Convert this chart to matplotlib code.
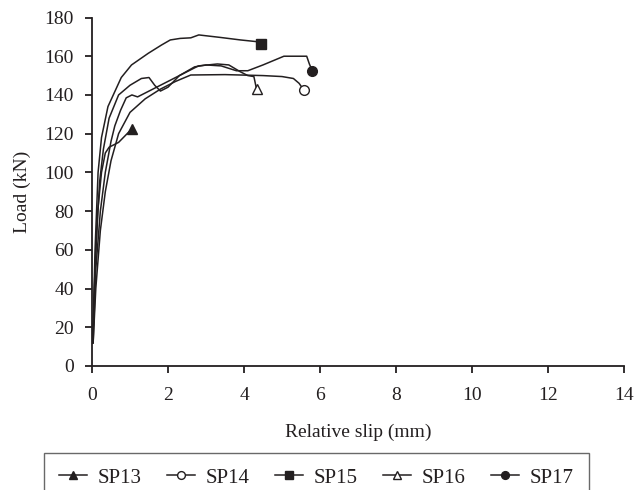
import matplotlib
matplotlib.use("Agg")
from matplotlib import pyplot as plt

plt.rcParams['font.family'] = ['Liberation Serif', 'DejaVu Serif']

ink = '#231f20'

### Read-off data (relative slip in mm, load in kN)
sp13_x = [0.02, 0.07, 0.15, 0.25, 0.35, 0.45, 0.55, 0.7, 0.85, 1.05]
sp13_y = [12, 45, 80, 100, 110, 113, 114, 115.5, 118.5, 122.5]

sp14_x = [0.03, 0.1, 0.22, 0.35, 0.5, 0.7, 1.0, 1.4, 1.8, 2.2, 2.6, 3.5,
          4.5, 5.0, 5.3, 5.45, 5.57]
sp14_y = [12, 40, 70, 90, 106, 120, 131, 138, 143, 147, 150.3, 150.5,
          150, 149.5, 148.5, 146, 142.6]

sp15_x = [0.02, 0.08, 0.16, 0.25, 0.42, 0.77, 1.04, 1.48, 1.83, 2.06, 2.32,
          2.6, 2.81, 3.38, 3.91, 4.35, 4.45]
sp15_y = [12, 60, 100, 118, 134, 149, 155.5, 161.5, 165.8, 168.4, 169.2,
          169.5, 171, 169.7, 168.4, 167.5, 166.5]

sp16_x = [0.03, 0.1, 0.22, 0.35, 0.5, 0.6, 0.75, 0.9, 1.05, 1.2, 1.5, 2.0,
          2.5, 2.8, 3.3, 3.6, 3.9, 4.1, 4.26, 4.33]
sp16_y = [12, 50, 80, 100, 116, 124, 132, 138.5, 140, 139, 142, 147,
          152, 155, 156, 155.5, 152, 150, 149.5, 143]

sp17_x = [0.02, 0.1, 0.2, 0.3, 0.45, 0.7, 1.0, 1.3, 1.5, 1.65, 1.8, 2.0,
          2.3, 2.7, 3.0, 3.4, 3.8, 4.1, 4.5, 5.05, 5.65, 5.72, 5.8]
sp17_y = [12, 60, 95, 112, 128, 140, 145, 148.5, 149, 145, 142, 144,
          150, 154.5, 155.5, 155, 152.5, 152.5, 155.5, 160, 160, 156, 152.4]

series = [
    ('SP13', sp13_x, sp13_y, '^', ink),
    ('SP14', sp14_x, sp14_y, 'o', 'white'),
    ('SP15', sp15_x, sp15_y, 's', ink),
    ('SP16', sp16_x, sp16_y, '^', 'white'),
    ('SP17', sp17_x, sp17_y, 'o', ink),
]

x_ticks = [0, 2, 4, 6, 8, 10, 12, 14]
y_ticks = [0, 20, 40, 60, 80, 100, 120, 140, 160, 180]

fig = plt.figure(figsize=(6.35, 4.9), dpi=100)
ax = fig.add_axes([92/635, 1-366/490, (624-92)/635, (366-17.5)/490])

for name, xs, ys, mk, fc in series:
    ax.plot(xs, ys, '-', color=ink, linewidth=1.1, marker=mk, markevery=[-1],
            markersize=7, markerfacecolor=fc, markeredgecolor=ink,
            markeredgewidth=1.0, label=name)

ax.set_xlim(0, 14)
ax.set_ylim(0, 180)
ax.set_xticks(x_ticks)
ax.set_yticks(y_ticks)
for s in ['top', 'right']:
    ax.spines[s].set_visible(False)
for s in ['left', 'bottom']:
    ax.spines[s].set_linewidth(1.3)
    ax.spines[s].set_color(ink)
ax.tick_params(direction='out', length=5, width=1.3, color=ink,
               labelsize=14, labelcolor=ink)
ax.tick_params(axis='x', pad=10)
ax.tick_params(axis='y', pad=8)

ax.set_xlabel('Relative slip (mm)', fontsize=14, color=ink, labelpad=14)
ax.set_ylabel('Load (kN)', fontsize=14, color=ink, labelpad=10)

leg = fig.legend(loc='upper left', bbox_to_anchor=(44.3/635, 1-453/490),
                 ncol=5, fontsize=15, frameon=True, fancybox=False,
                 borderpad=0.72, borderaxespad=0, handlelength=1.35,
                 handletextpad=0.5, columnspacing=1.22, markerscale=0.8)
leg.get_frame().set_edgecolor('#444444')
leg.get_frame().set_linewidth(1.0)
for t in leg.get_texts():
    t.set_color(ink)

fig.savefig('out.png', dpi=100)
